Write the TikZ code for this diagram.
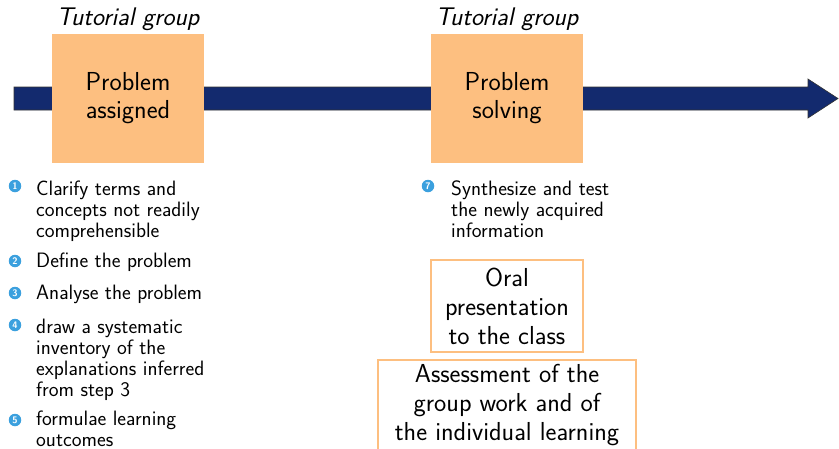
\documentclass[tikz,border=0pt]{standalone}
\usepackage{tikz}
\usetikzlibrary{positioning}
\definecolor{navy}{RGB}{19,42,110}
\definecolor{peach}{RGB}{253,191,128}
\definecolor{ballblue}{RGB}{59,160,222}

\begin{document}
\begin{tikzpicture}[x=1pt,y=-1pt,
    stage/.style={fill=peach, minimum width=152pt, minimum height=129pt, align=center,
        font=\sffamily\fontsize{26}{28}\selectfont},
    group/.style={font=\sffamily\itshape\fontsize{25.5}{28}\selectfont, anchor=base},
    ball/.style={circle, fill=ballblue, text=white, inner sep=0pt, minimum size=12.5pt,
        font=\sffamily\bfseries\fontsize{9.5}{9.5}\selectfont},
    item/.style={anchor=base west, align=left, inner sep=0pt,
        font=\sffamily\fontsize{20.8}{21}\selectfont},
    outbox/.style={draw=peach, line width=2pt, align=center, inner sep=0pt,
        font=\sffamily\fontsize{26}{29}\selectfont}]
    \useasboundingbox (0,0) rectangle (839,448);
    \clip (0,0) rectangle (839,448);

    % time line
    \draw[fill=navy, draw=black!80, line width=0.6pt]
        (14,87) -- (808,87) -- (808,79) -- (838,98.5) -- (808,118) -- (808,110) -- (14,110) -- cycle;

    \node[stage] (assigned) at (128,98.5) {Problem\\assigned};
    \node[stage] (solving) at (507,98.5) {Problem\\solving};
    \node[group] (tut1) at (128,25) {Tutorial group};
    \node[group] (tut2) at (507,25) {Tutorial group};

    \foreach \n/\x/\y in {1/15/186, 2/15/261, 3/15/293, 4/15/325, 5/15/420, 7/428/186}{
        \node[ball] (ball\n) at (\x,\y) {\n};
    }

    % base anchor sits on the last line
    \node[item] (step1) at (36,237) {Clarify terms and\\concepts not readily\\comprehensible};
    \node[item] (step2) at (36,267) {Define the problem};
    \node[item] (step3) at (36,299) {Analyse the problem};
    \node[item] (step4) at (36,396) {draw a systematic\\inventory of the\\explanations inferred\\from step 3};
    \node[item] (step5) at (36,446) {formulae learning\\outcomes};
    \node[item] (step7) at (451,237) {Synthesize and test\\the newly acquired\\information};

    \node[outbox, minimum width=152pt, minimum height=92pt] (oral) at (507,306) {Oral\\presentation\\to the class};
    \node[outbox, minimum width=258pt, minimum height=130pt, anchor=north] (assess) at (507,359) {};
    \node[font=\sffamily\fontsize{26}{29}\selectfont, align=center, anchor=base] (assesstext) at (507,440)
        {Assessment of the\\group work and of\\the individual learning};
\end{tikzpicture}
\end{document}
